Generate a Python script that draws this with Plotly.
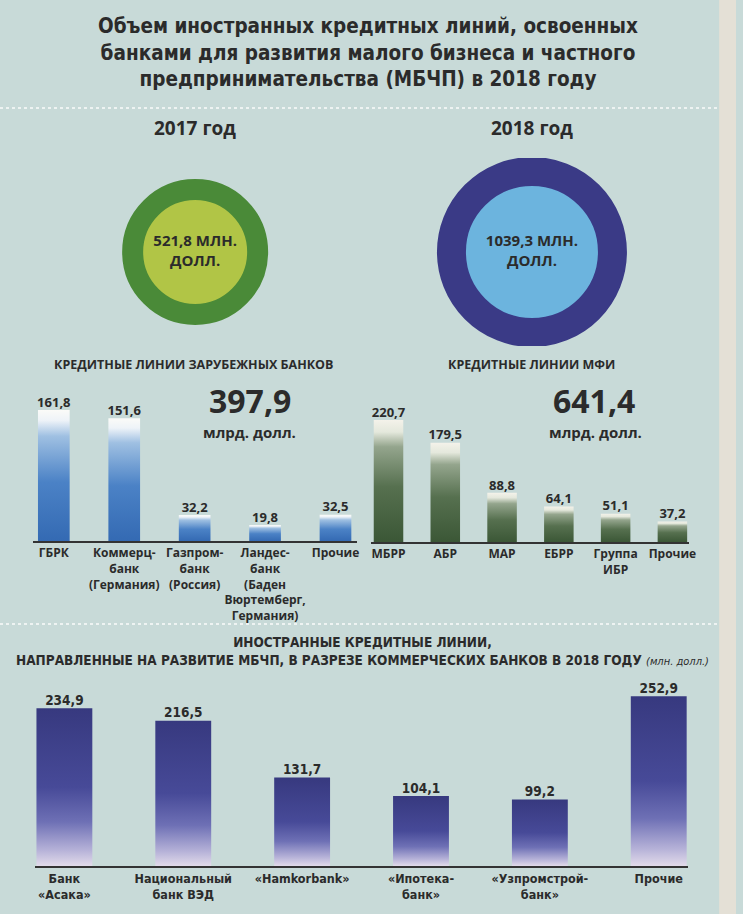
import plotly.graph_objects as go

W, H = 743, 914

# ---------------- data ----------------
title_lines = ["Объем иностранных кредитных линий, освоенных",
               "банками для развития малого бизнеса и частного",
               "предпринимательства (МБЧП) в 2018 году"]

years = ["2017 год", "2018 год"]
year_totals = [521.8, 1039.3]
circle_unit = "МЛН.<br>ДОЛЛ."

foreign_title = "КРЕДИТНЫЕ ЛИНИИ ЗАРУБЕЖНЫХ БАНКОВ"
foreign_banks = ["ГБРК", "Коммерц-<br>банк<br>(Германия)", "Газпром-<br>банк<br>(Россия)",
                 "Ландес-<br>банк<br>(Баден<br>Вюртемберг,<br>Германия)", "Прочие"]
foreign_values = [161.8, 151.6, 32.2, 19.8, 32.5]

mfi_title = "КРЕДИТНЫЕ ЛИНИИ МФИ"
mfi_names = ["МБРР", "АБР", "МАР", "ЕБРР", "Группа<br>ИБР", "Прочие"]
mfi_values = [220.7, 179.5, 88.8, 64.1, 51.1, 37.2]

big_unit = "млрд. долл."

bank_title_1 = "ИНОСТРАННЫЕ КРЕДИТНЫЕ ЛИНИИ,"
bank_title_2 = "НАПРАВЛЕННЫЕ НА РАЗВИТИЕ МБЧП, В РАЗРЕЗЕ КОММЕРЧЕСКИХ БАНКОВ В 2018 ГОДУ"
bank_unit = "(млн. долл.)"
bank_names = ["Банк<br>«Асака»", "Национальный<br>банк ВЭД", "«Hamkorbank»",
              "«Ипотека-<br>банк»", "«Узпромстрой-<br>банк»", "Прочие"]
bank_values = [234.9, 216.5, 131.7, 104.1, 99.2, 252.9]


def fmt(v):
    return f"{v:.1f}".replace(".", ",")


# ---------------- styles ----------------
BG = "#c8dad8"
INK = "#2b2b2b"
NARROW = "Liberation Sans Narrow, DejaVu Sans Condensed, Roboto, sans-serif"
SANS = "Open Sans, Noto Sans, sans-serif"


def px(x):
    return x / W


def py(y):
    return 1 - y / H


fig = go.Figure()


def add_bars(values, xa, ya, width, colorscale, tfont):
    for i, v in enumerate(values):
        fig.add_trace(go.Scatter(
            x=[i - width / 2, i + width / 2, i + width / 2, i - width / 2, i - width / 2],
            y=[0, 0, v, v, 0], mode="lines", line=dict(width=0),
            fill="toself", fillgradient=dict(type="vertical", colorscale=colorscale),
            xaxis=xa, yaxis=ya, hoverinfo="skip", showlegend=False))
    fig.add_trace(go.Scatter(
        x=list(range(len(values))), y=values, mode="text",
        text=[fmt(v) for v in values], textposition="top center",
        textfont=tfont, xaxis=xa, yaxis=ya, hoverinfo="skip", showlegend=False))


foreign_scale = [[0, "#346ab3"], [0.45, "#4b82c6"], [0.8, "#9fc0e2"], [0.92, "#eef3f8"], [1, "#fbfbf8"]]
mfi_scale = [[0, "#3b5736"], [0.45, "#56704f"], [0.78, "#94a58d"], [0.9, "#e4e8dc"], [1, "#f4f2ea"]]
bank_scale = [[0, "#e2dbea"], [0.1, "#b6b2d8"], [0.28, "#6e70b5"], [0.5, "#474a98"], [1, "#37397f"]]

add_bars(foreign_values, "x", "y", 0.45, foreign_scale,
         dict(family=SANS, size=13, color=INK, weight="bold"))
add_bars(mfi_values, "x2", "y2", 0.52, mfi_scale,
         dict(family=SANS, size=13, color=INK, weight="bold"))
add_bars(bank_values, "x3", "y3", 0.47, bank_scale,
         dict(family=NARROW, size=13.5, color=INK, weight="bold"))

# circles
fig.add_trace(go.Scatter(
    x=[0, 1], y=[0, 0], mode="markers+text",
    marker=dict(size=[125, 161], color=["#b1c546", "#6cb4de"], opacity=1,
                line=dict(width=[21, 29], color=["#4a8a38", "#3a3a86"])),
    text=[f"{fmt(v)} {circle_unit}" for v in year_totals], textposition="middle center",
    textfont=dict(family=SANS, size=15, color=INK, weight="bold"),
    xaxis="x4", yaxis="y4", hoverinfo="skip", showlegend=False))


def xax(dom, n, pad, labels, font, anchor):
    return dict(domain=[px(dom[0]), px(dom[1])], range=[-pad, n - 1 + pad],
                tickmode="array", tickvals=list(range(n)), ticktext=labels, tickangle=0,
                showgrid=False, zeroline=False, showline=True, linecolor="#333333",
                linewidth=2, ticks="", tickfont=font, fixedrange=True, anchor=anchor)


def yax(bottom, top, rng, anchor):
    return dict(domain=[py(bottom), py(top)], range=rng, visible=False,
                fixedrange=True, anchor=anchor)


tick_sans = dict(family=SANS, size=12, color=INK, weight="bold")
tick_narrow = dict(family=NARROW, size=12.5, color=INK, weight="bold")


def ann(x, y, text, font, xref="paper"):
    return dict(x=x, y=py(y), xref=xref, yref="paper", showarrow=False, text=text,
                xanchor="center", yanchor="middle", align="center", font=font)


annotations = [
    ann(0.5, 52, "<br>".join(title_lines), dict(family=NARROW, size=20.5, color=INK, weight="bold")),
    ann(px(195), 365, foreign_title, dict(family=SANS, size=12.5, color=INK, weight="bold")),
    ann(px(537), 365, mfi_title, dict(family=SANS, size=12.5, color=INK, weight="bold")),
    ann(px(252), 400, fmt(sum(foreign_values)), dict(family=SANS, size=32, color=INK, weight="bold")),
    ann(px(252), 432, big_unit, dict(family=SANS, size=15, color=INK, weight="bold")),
    ann(px(600), 400, fmt(sum(mfi_values)), dict(family=SANS, size=32, color=INK, weight="bold")),
    ann(px(601), 432, big_unit, dict(family=SANS, size=15, color=INK, weight="bold")),
    ann(px(366), 651,
        f"{bank_title_1}<br>{bank_title_2} <i><span style='font-weight:normal;font-size:11px'>{bank_unit}</span></i>",
        dict(family=NARROW, size=13.5, color=INK, weight="bold")),
]
for i, yl in enumerate(years):
    annotations.append(ann(i, 128, yl, dict(family=SANS, size=19, color=INK, weight="bold"), xref="x4"))

shapes = [
    dict(type="rect", xref="paper", yref="paper", x0=px(726), x1=1, y0=0, y1=1,
         fillcolor="#e4e0d6", line=dict(width=0), layer="below"),
    dict(type="line", xref="paper", yref="paper", x0=0, x1=px(726), y0=py(108), y1=py(108),
         line=dict(color="#eef3f2", width=2, dash="dot")),
    dict(type="line", xref="paper", yref="paper", x0=0, x1=px(726), y0=py(624), y1=py(624),
         line=dict(color="#eef3f2", width=2, dash="dot")),
]

fig.update_layout(
    width=W, height=H, margin=dict(l=0, r=0, t=0, b=0),
    paper_bgcolor=BG, plot_bgcolor="rgba(0,0,0,0)", showlegend=False,
    xaxis=xax((33, 360), 5, 0.3, foreign_banks, tick_sans, "y"),
    yaxis=yax(541, 379, [0, 200], "x"),
    xaxis2=xax((375, 696), 6, 0.3, mfi_names, tick_sans, "y2"),
    yaxis2=yax(542, 376, [0, 300], "x2"),
    xaxis3=xax((35, 695), 6, 0.25, bank_names, tick_narrow, "y3"),
    yaxis3=yax(866, 678, [0, 280], "x3"),
    xaxis4=dict(domain=[px(27), px(707)], range=[-0.5, 1.5], visible=False, fixedrange=True, anchor="y4"),
    yaxis4=dict(domain=[py(346), py(158)], range=[-1, 1], visible=False, fixedrange=True, anchor="x4"),
    annotations=annotations, shapes=shapes,
)

fig.write_html("out.html", config={"displayModeBar": False},
               post_script="document.body.style.margin='0';document.body.style.background='" + BG + "';")
